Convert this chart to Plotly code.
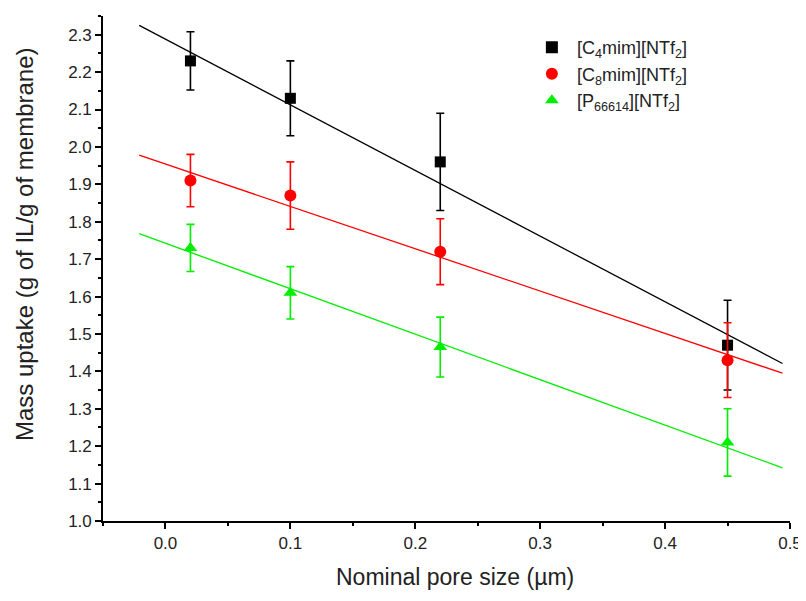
import plotly.graph_objects as go

pore_size = [0.02, 0.10, 0.22, 0.45]

c4_uptake = [2.23, 2.13, 1.96, 1.47]
c4_err = [0.078, 0.10, 0.13, 0.12]
c8_uptake = [1.91, 1.87, 1.72, 1.43]
c8_err = [0.07, 0.09, 0.088, 0.10]
p_uptake = [1.73, 1.61, 1.465, 1.21]
p_err = [0.063, 0.07, 0.08, 0.09]

fit_x = [-0.021, 0.494]
c4_fit = [2.325, 1.421]
c8_fit = [1.978, 1.395]
p_fit = [1.768, 1.142]

names = ["[C<sub>4</sub>mim][NTf<sub>2</sub>]",
         "[C<sub>8</sub>mim][NTf<sub>2</sub>]",
         "[P<sub>66614</sub>][NTf<sub>2</sub>]"]
colors = ["#000000", "#ff0000", "#00ee00"]
symbols = ["square", "circle", "triangle-up"]
sizes = [11, 12, 12]

FONT = "Liberation Sans"
TXT = "#222222"

# the page body adds an 8px offset; margins below compensate for it
fig = go.Figure()
for fit, col in [(c4_fit, colors[0]), (c8_fit, colors[1]), (p_fit, colors[2])]:
    fig.add_trace(go.Scatter(x=fit_x, y=fit, mode="lines", line=dict(color=col, width=1.3),
                             showlegend=False, hoverinfo="skip"))

for ys, err, name, col, sym, sz in zip([c4_uptake, c8_uptake, p_uptake], [c4_err, c8_err, p_err],
                                       names, colors, symbols, sizes):
    fig.add_trace(go.Scatter(x=pore_size, y=ys, mode="markers", name=name,
                             marker=dict(color=col, symbol=sym, size=sz, line=dict(width=0)),
                             error_y=dict(type="data", array=err, color=col, thickness=1.6, width=4)))

axis_common = dict(showline=True, linecolor="black", linewidth=1.6, ticks="outside",
                   ticklen=6, tickwidth=1.6, tickcolor="black", showgrid=False, zeroline=False,
                   mirror=False, automargin=False,
                   tickfont=dict(family=FONT, size=17, color=TXT))

PW, PH = 687, 505

fig.update_layout(
    width=806, height=601,
    margin=dict(l=95, r=24, t=8, b=88),
    plot_bgcolor="white", paper_bgcolor="white",
    font=dict(family=FONT, color=TXT, size=17),
    xaxis=dict(range=[-0.05, 0.5], dtick=0.1, tick0=0, tickformat=".1f",
               minor=dict(dtick=0.05, tick0=0, ticks="outside", ticklen=3, tickwidth=1.6, tickcolor="black"),
               **axis_common),
    yaxis=dict(range=[1.0, 2.35], dtick=0.1, tick0=1.0, tickformat=".1f",
               minor=dict(dtick=0.05, tick0=1.0, ticks="outside", ticklen=3, tickwidth=1.6, tickcolor="black"),
               **axis_common),
    legend=dict(x=0.617, y=0.974, xanchor="left", yanchor="top", bgcolor="rgba(0,0,0,0)",
                font=dict(family=FONT, size=18, color=TXT), tracegroupgap=0, itemsizing="constant",
                itemwidth=40),
    annotations=[
        dict(text="Nominal pore size (µm)", xref="paper", yref="paper",
             x=(455 - 103) / PW, y=-(577 - 521) / PH, xanchor="center", yanchor="middle",
             showarrow=False, font=dict(family=FONT, size=23, color=TXT)),
        dict(text="Mass uptake (g of IL/g of membrane)", xref="paper", yref="paper",
             x=-(103 - 25) / PW, y=(521 - 244) / PH, xanchor="center", yanchor="middle",
             textangle=-90, showarrow=False, font=dict(family=FONT, size=24, color=TXT)),
    ],
)

fig.write_html("out.html")
